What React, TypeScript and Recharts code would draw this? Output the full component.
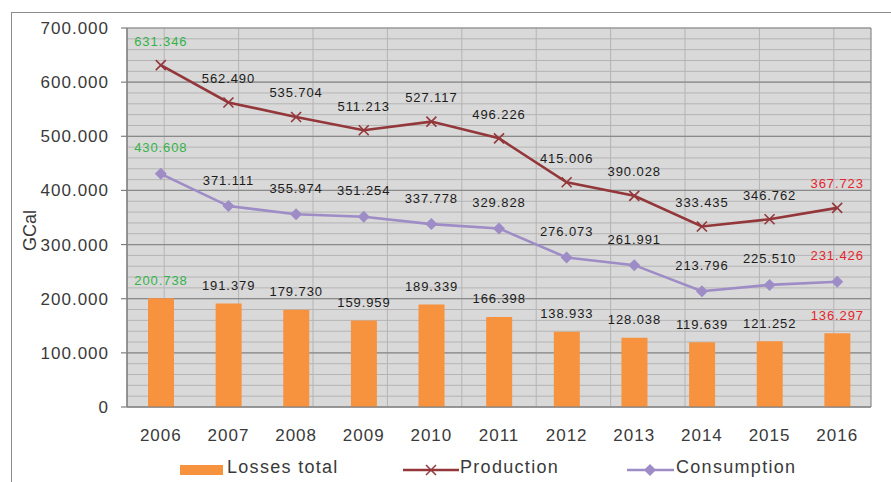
import React from "react";
import {
  Bar,
  CartesianGrid,
  ComposedChart,
  Legend,
  LabelList,
  Line,
  XAxis,
  YAxis,
} from "recharts";

const years = ["2006", "2007", "2008", "2009", "2010", "2011", "2012", "2013", "2014", "2015", "2016"];
const production = [631346, 562490, 535704, 511213, 527117, 496226, 415006, 390028, 333435, 346762, 367723];
const consumption = [430608, 371111, 355974, 351254, 337778, 329828, 276073, 261991, 213796, 225510, 231426];
const losses = [200738, 191379, 179730, 159959, 189339, 166398, 138933, 128038, 119639, 121252, 136297];

const valueTicks = [0, 100000, 200000, 300000, 400000, 500000, 600000, 700000];
const minorTicks = Array.from({ length: 36 }, (_, i) => i * 20000);
const edgeTicks = [0, 1, 2, 3, 4, 5, 6, 7, 8, 9, 10, 11];
const Y_MAX = 700000;

const BAR = "#f7923e";
const PROD = "#93373a";
const CONS = "#9e8cc6";
const GREEN = "#35b34a";
const RED = "#e2262c";
const TEXT = "#3a3a3a";
const FONT = "'Liberation Sans', Arial, sans-serif";

const data = years.map((year, i) => ({
  year,
  production: production[i],
  consumption: consumption[i],
  losses: losses[i],
}));

const fmt = new Intl.NumberFormat("de-DE");

function labelColor(index: number) {
  if (index === 0) return GREEN;
  if (index === years.length - 1) return RED;
  return "#1c1c1c";
}

function makeLabel(lift: number, isBar: boolean) {
  return (props: any) => {
    const { x, y, width, value, index } = props;
    const cx = isBar ? x + width / 2 : x;
    return (
      <text
        x={cx}
        y={y - lift}
        textAnchor="middle"
        dominantBaseline="central"
        fontSize={13}
        letterSpacing={0.9}
        fontFamily={FONT}
        fill={labelColor(index)}
      >
        {fmt.format(value)}
      </text>
    );
  };
}

function CrossDot(props: any) {
  const { cx, cy, index } = props;
  const s = 5;
  return (
    <g key={`x-${index}`} stroke={PROD} strokeWidth={1.6}>
      <line x1={cx - s} y1={cy - s} x2={cx + s} y2={cy + s} />
      <line x1={cx - s} y1={cy + s} x2={cx + s} y2={cy - s} />
    </g>
  );
}

function DiamondDot(props: any) {
  const { cx, cy, index } = props;
  const s = 6;
  return (
    <path
      key={`d-${index}`}
      d={`M${cx},${cy - s}L${cx + s},${cy}L${cx},${cy + s}L${cx - s},${cy}Z`}
      fill={CONS}
    />
  );
}

function ChartLegend() {
  const text: React.CSSProperties = {
    position: "absolute",
    top: 5,
    fontSize: 18,
    letterSpacing: 1.3,
    lineHeight: "20px",
    color: TEXT,
    fontFamily: FONT,
  };
  return (
    <div style={{ position: "relative", height: 30, width: 891 }}>
      <span style={{ position: "absolute", left: 180, top: 13, width: 43, height: 10, background: BAR }} />
      <span style={{ ...text, left: 227 }}>Losses total</span>
      <svg style={{ position: "absolute", left: 403, top: 8 }} width={56} height={20}>
        <line x1={0} y1={10} x2={56} y2={10} stroke={PROD} strokeWidth={2.5} />
        <line x1={23} y1={5} x2={33} y2={15} stroke={PROD} strokeWidth={1.5} />
        <line x1={23} y1={15} x2={33} y2={5} stroke={PROD} strokeWidth={1.5} />
      </svg>
      <span style={{ ...text, left: 460 }}>Production</span>
      <svg style={{ position: "absolute", left: 627, top: 8 }} width={47} height={20}>
        <line x1={0} y1={10} x2={47} y2={10} stroke={CONS} strokeWidth={2.5} />
        <path d="M23,4L29,10L23,16L17,10Z" fill={CONS} />
      </svg>
      <span style={{ ...text, left: 676 }}>Consumption</span>
    </div>
  );
}

// the axis object handed to grid generators may carry the scale as a function or as an object with map()
function scaleOf(axis: any): ((v: number) => number) | null {
  const s = axis?.scale;
  if (typeof s === "function") return (v) => s(v);
  if (s && typeof s.map === "function") return (v) => s.map(v);
  if (s && typeof s.scale === "function") return (v) => s.scale(v);
  return null;
}

// minor grid: every 20.000 horizontally, category centres vertically
const minorH = ({ yAxis, offset }: any) => {
  const f = scaleOf(yAxis);
  return minorTicks.map((v) => (f ? f(v) : offset.top + offset.height * (1 - v / Y_MAX)));
};
const minorV = ({ xAxis, offset }: any) => {
  const f = scaleOf(xAxis);
  return years.map((_, i) => (f ? f(i + 0.5) : offset.left + (offset.width * (i + 0.5)) / years.length));
};

export default function App() {
  const tick = { fill: TEXT, fontSize: 17, fontFamily: FONT, letterSpacing: 1 };
  return (
    <div style={{ position: "absolute", left: 0, top: 0, width: 891, height: 482, background: "#fff", overflow: "hidden" }}>
      <div
        style={{
          position: "absolute",
          left: 11,
          top: 12,
          width: 1000,
          height: 1000,
          borderLeft: "1.5px solid #8c8c8c",
          borderTop: "1.5px solid #8c8c8c",
        }}
      />
      <ComposedChart
        width={891}
        height={482}
        data={data}
        margin={{ top: 28, right: 20, left: 0, bottom: 0 }}
        style={{ position: "absolute", left: 0, top: 0 }}
      >
        <CartesianGrid
          xAxisId="edge"
          yAxisId="val"
          fill="#d9d9d9"
          stroke="#b4b4b4"
          strokeWidth={1}
          horizontalCoordinatesGenerator={minorH}
          verticalCoordinatesGenerator={minorV}
        />
        <CartesianGrid xAxisId="edge" yAxisId="val" stroke="#8a8a8a" strokeWidth={1.2} />

        <XAxis
          xAxisId="edge"
          type="number"
          domain={[0, 11]}
          ticks={edgeTicks}
          interval={0}
          height={0}
          tick={false}
          tickSize={8}
          axisLine={false}
          tickLine={{ stroke: "#7f7f7f", strokeWidth: 1.2 }}
        />
        <XAxis
          xAxisId="year"
          dataKey="year"
          height={45}
          interval={0}
          tickSize={0}
          tickMargin={22}
          tickLine={false}
          axisLine={{ stroke: "#7f7f7f", strokeWidth: 1.2 }}
          tick={tick}
        />
        <YAxis
          yAxisId="val"
          width={127}
          domain={[0, Y_MAX]}
          ticks={valueTicks}
          interval={0}
          tickFormatter={(v: number) => fmt.format(v)}
          tickSize={6}
          tickMargin={12}
          axisLine={{ stroke: "#7f7f7f", strokeWidth: 1.2 }}
          tickLine={{ stroke: "#7f7f7f", strokeWidth: 1.2 }}
          tick={tick}
          label={(props: any) => {
            const vb = props.viewBox;
            const x = vb.x + 30;
            const y = vb.y + vb.height / 2 + 13;
            return (
              <text
                x={x}
                y={y}
                transform={`rotate(-90, ${x}, ${y})`}
                textAnchor="middle"
                dominantBaseline="central"
                fontSize={18}
                fontFamily={FONT}
                fill={TEXT}
              >
                GCal
              </text>
            );
          }}
        />

        <Legend verticalAlign="bottom" height={30} wrapperStyle={{ left: 0, width: 891 }} content={() => <ChartLegend />} />

        <Bar xAxisId="year" yAxisId="val" dataKey="losses" name="Losses total" fill={BAR} barSize={26} isAnimationActive={false}>
          <LabelList dataKey="losses" content={makeLabel(18, true)} />
        </Bar>
        <Line
          xAxisId="year"
          yAxisId="val"
          type="linear"
          dataKey="production"
          name="Production"
          stroke={PROD}
          strokeWidth={2.6}
          dot={CrossDot}
          activeDot={false}
          isAnimationActive={false}
        >
          <LabelList dataKey="production" content={makeLabel(24, false)} />
        </Line>
        <Line
          xAxisId="year"
          yAxisId="val"
          type="linear"
          dataKey="consumption"
          name="Consumption"
          stroke={CONS}
          strokeWidth={2.6}
          dot={DiamondDot}
          activeDot={false}
          isAnimationActive={false}
        >
          <LabelList dataKey="consumption" content={makeLabel(26, false)} />
        </Line>
      </ComposedChart>
    </div>
  );
}
